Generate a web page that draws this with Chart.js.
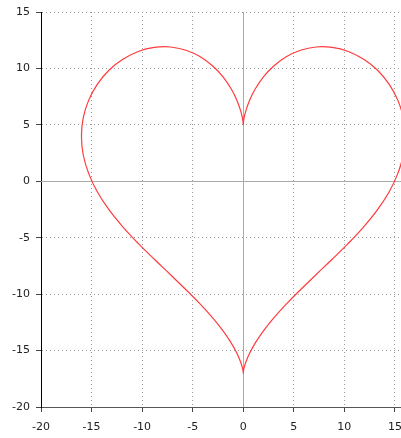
<!DOCTYPE html>
<html>
<head>
<meta charset="utf-8">
<script src="https://cdn.jsdelivr.net/npm/chart.js@4"></script>
<style>
  html, body { margin: 0; padding: 0; background: #fff; overflow: hidden; }
</style>
</head>
<body>
<canvas id="heart" width="401" height="438"></canvas>
<script>
// heart outline, right half (top cusp -> bottom tip)
const rightX = [0, 0.01, 0.08, 0.28, 0.64, 1.21, 2.00, 3.02, 4.25, 5.66, 7.19, 8.79, 10.39, 11.91, 13.28, 14.42, 15.28, 15.82, 16.00,
  15.82, 15.28, 14.42, 13.28, 11.91, 10.39, 8.79, 7.19, 5.66, 4.25, 3.02, 2.00, 1.21, 0.64, 0.28, 0.08, 0.01, 0];
const rightY = [5.00, 5.15, 5.61, 6.31, 7.21, 8.22, 9.26, 10.22, 11.03, 11.61, 11.90, 11.86, 11.50, 10.81, 9.84, 8.61, 7.19, 5.64, 4.00,
  2.33, 0.68, -0.95, -2.52, -4.04, -5.50, -6.91, -8.28, -9.61, -10.89, -12.11, -13.26, -14.30, -15.22, -15.97, -16.53, -16.88, -17.00];
// left half (bottom tip -> top cusp)
const leftX = [-0.01, -0.08, -0.28, -0.64, -1.21, -2.00, -3.02, -4.25, -5.66, -7.19, -8.79, -10.39, -11.91, -13.28, -14.42, -15.28, -15.82, -16.00,
  -15.82, -15.28, -14.42, -13.28, -11.91, -10.39, -8.79, -7.19, -5.66, -4.25, -3.02, -2.00, -1.21, -0.64, -0.28, -0.08, -0.01, 0];
const leftY = [-16.88, -16.53, -15.97, -15.22, -14.30, -13.26, -12.11, -10.89, -9.61, -8.28, -6.91, -5.50, -4.04, -2.52, -0.95, 0.68, 2.33, 4.00,
  5.64, 7.19, 8.61, 9.84, 10.81, 11.50, 11.86, 11.90, 11.61, 11.03, 10.22, 9.26, 8.22, 7.21, 6.31, 5.61, 5.15, 5.00];

// the view runs a little past 15 on the right (cut at the window edge)
const xMin = -20, xMax = 15.6, yMin = -20, yMax = 15, step = 5;

let points = [];
for (let i = 0; i < rightX.length; i++) points.push({ x: rightX[i], y: rightY[i] });
for (let i = 0; i < leftX.length; i++) points.push({ x: leftX[i], y: leftY[i] });

// solid grey lines through the origin
const zeroLines = {
  id: "zeroLines",
  beforeDatasetsDraw(chart) {
    const { ctx, chartArea, scales } = chart;
    const px = Math.round(scales.x.getPixelForValue(0)) + 0.5;
    const py = Math.round(scales.y.getPixelForValue(0)) + 0.5;
    ctx.save();
    ctx.strokeStyle = "#aaa";
    ctx.lineWidth = 1;
    ctx.beginPath();
    ctx.moveTo(px, chartArea.top);
    ctx.lineTo(px, chartArea.bottom);
    ctx.moveTo(chartArea.left, py);
    ctx.lineTo(chartArea.right, py);
    ctx.stroke();
    ctx.restore();
  }
};

function noPad(scale) {
  scale.paddingLeft = 0;
  scale.paddingRight = 0;
  scale.paddingTop = 0;
  scale.paddingBottom = 0;
}

const tickFont = { family: "DejaVu Sans", size: 11 };

new Chart(document.getElementById("heart"), {
  type: "scatter",
  data: {
    datasets: [{
      data: points,
      showLine: true,
      borderColor: "#ff3b3b",
      borderWidth: 1.2,
      pointRadius: 0,
      tension: 0.4,
      fill: false
    }]
  },
  options: {
    responsive: false,
    animation: false,
    layout: { padding: { top: 12, right: 0, left: 0, bottom: 0 } },
    plugins: { legend: { display: false }, tooltip: { enabled: false } },
    scales: {
      x: {
        type: "linear",
        min: xMin, max: xMax,
        ticks: { stepSize: step, includeBounds: false, color: "#222", font: tickFont, padding: 9, maxRotation: 0 },
        grid: {
          color: (c) => (c.tick && c.tick.value === 0 ? "transparent" : "#999"),
          tickColor: "#444",
          tickLength: 5
        },
        border: { color: "#555", width: 1, dash: [1, 3] },
        afterFit(scale) { scale.height = 31; noPad(scale); }
      },
      y: {
        type: "linear",
        min: yMin, max: yMax,
        ticks: { stepSize: step, color: "#222", font: tickFont, padding: 6 },
        grid: {
          color: (c) => (c.tick && c.tick.value === 0 ? "transparent" : "#999"),
          tickColor: "#444",
          tickLength: 5
        },
        border: { color: "#000", width: 1, dash: [1, 3] },
        afterFit(scale) { scale.width = 41; noPad(scale); }
      }
    }
  },
  plugins: [zeroLines]
});
</script>
</body>
</html>
